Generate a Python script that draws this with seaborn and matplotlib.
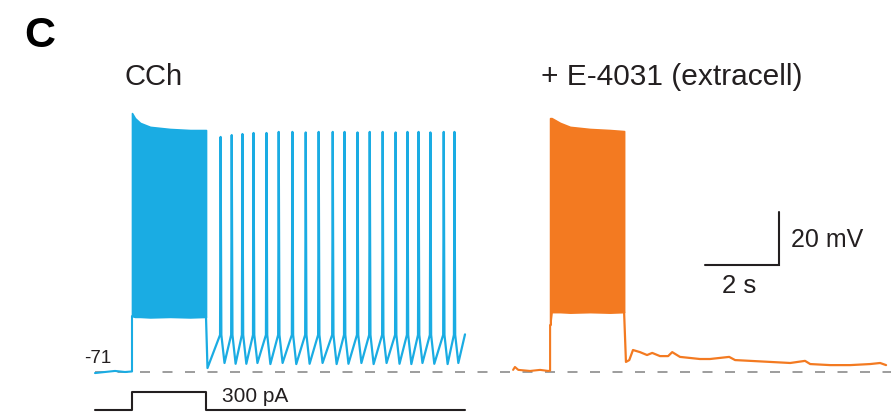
import numpy as np
import pandas as pd
import matplotlib
matplotlib.use("Agg")
import matplotlib.pyplot as plt
import seaborn as sns

# ---- values (time in s, membrane potential in mV) ----
rest_mv = -71
step_pa = 300
stim_t = [0.0, 1.0, 1.0, 3.0, 3.0, 10.0]
stim_pa = [0, 0, step_pa, step_pa, 0, 0]

# CCh trace
cch_base_t = [0.0, 0.27, 0.54, 0.81, 1.0]
cch_base_mv = [-71.4, -71.0, -70.6, -71.0, -70.8]
cch_band_t = [1.0, 1.08, 1.22, 1.49, 2.03, 2.57, 3.0]
cch_band_top = [26.7, 24.8, 23.0, 21.5, 20.7, 20.3, 20.3]
cch_band_bot = [-49.9, -50.2, -50.2, -50.4, -50.2, -50.4, -50.2]
cch_after_t = [3.0, 3.04]
cch_after_mv = [-50.2, -69.5]
spike_t = [3.38, 3.68, 3.97, 4.27, 4.62, 4.95, 5.32, 5.68, 6.03, 6.41,
           6.73, 7.08, 7.41, 7.76, 8.11, 8.43, 8.73, 9.05, 9.41, 9.70]
spike_peak = [17.7, 18.4, 18.8, 19.2, 19.2, 19.6, 19.6, 19.4, 19.6, 19.6,
              19.6, 19.4, 19.6, 19.6, 19.4, 19.6, 19.6, 19.4, 19.6, 19.6]
spike_trough = [-67.6, -67.9, -67.9, -67.6, -68.0, -67.6, -68.0, -67.9, -67.6, -68.0,
                -67.9, -67.6, -68.0, -67.6, -67.9, -68.0, -67.6, -67.9, -68.0, -67.6]
spike_thr = -57.0
cch_end_t, cch_end_mv = 10.0, -56.8

# + E-4031 trace (own time axis, shifted right on the page)
e4031_shift = 11.3
e4031_base_t = [0.0, 0.05, 0.14, 0.46, 0.73, 0.95, 1.0]
e4031_base_mv = [-70.2, -69.1, -70.2, -70.6, -70.2, -70.6, -70.5]
e4031_band_t = [1.0, 1.04, 1.08, 1.27, 1.54, 2.08, 2.62, 3.0]
e4031_band_top = [24.8, 24.8, 24.5, 23.0, 21.5, 20.7, 20.3, 19.9]
e4031_band_bot = [-53.3, -48.4, -48.4, -48.4, -48.6, -48.4, -48.6, -48.4]
e4031_after_t = [3.0, 3.05, 3.14, 3.24, 3.43, 3.62, 3.76, 3.97, 4.19, 4.30, 4.51,
                 4.78, 5.05, 5.32, 5.84, 6.00, 6.41, 6.95, 7.49, 7.89, 8.03, 8.57,
                 9.11, 9.65, 9.92, 10.08]
e4031_after_mv = [-48.4, -67.2, -66.5, -62.7, -63.5, -64.6, -63.8, -65.0, -65.0, -63.5, -65.3,
                  -65.7, -66.1, -66.1, -65.3, -66.5, -66.8, -67.2, -67.6, -66.8, -68.0, -68.4,
                  -68.4, -68.0, -67.6, -68.4]

scale_t, scale_mv = 2, 20

blue = "#1AACE3"
orange = "#F37A21"
ink = "#231F20"

# ---- page geometry (pixel mapping) ----
W, H = 894, 417
x0_px, px_per_s = 95, 37.0
rest_px, px_per_mv = 372, 2.65
stim_base_px, px_per_pa = 410, 18 / 300


def fpos(x, y):
    return x / W, 1 - y / H


sns.set_theme(style="white")
plt.rcParams["font.family"] = ["Liberation Sans", "DejaVu Sans"]

fig = plt.figure(figsize=(W / 100, H / 100), dpi=100)
ax = fig.add_axes([0, 0, 1, 1])
ax.set_xlim(-x0_px / px_per_s, (W - x0_px) / px_per_s)
ax.set_ylim(rest_mv - (H - rest_px) / px_per_mv, rest_mv + rest_px / px_per_mv)
ax.axis("off")

sax = fig.add_axes([0, 0, 1, 1])
sax.set_xlim(ax.get_xlim())
sax.set_ylim(-(H - stim_base_px) / px_per_pa, stim_base_px / px_per_pa)
sax.axis("off")
sax.patch.set_alpha(0)

# baseline reference
ax.hlines(rest_mv, 0, 21.5, colors="#8C8C8C", lw=1.2, linestyles=(0, (6, 7.5)), zorder=1)

# CCh trace
cch_t = list(cch_base_t) + [1.0]
cch_v = list(cch_base_mv) + [cch_band_bot[0]]
sns.lineplot(x=cch_t, y=cch_v, sort=False, estimator=None, color=blue, lw=1.5, ax=ax)
ax.fill_between(cch_band_t, cch_band_bot, cch_band_top, color=blue, lw=1.2, edgecolor=blue)

t_after = list(cch_after_t)
v_after = list(cch_after_mv)
for ti, pk, tr in zip(spike_t, spike_peak, spike_trough):
    t_after += [ti, ti + 0.015, ti + 0.035, ti + 0.12]
    v_after += [spike_thr, pk, spike_thr, tr]
t_after.append(cch_end_t)
v_after.append(cch_end_mv)
sns.lineplot(x=t_after, y=v_after, sort=False, estimator=None, color=blue, lw=1.6, ax=ax)

# E-4031 trace
e_base = pd.DataFrame({"t": np.array(e4031_base_t + [1.0]) + e4031_shift,
                       "mv": e4031_base_mv + [e4031_band_bot[0]]})
sns.lineplot(data=e_base, x="t", y="mv", sort=False, estimator=None, color=orange, lw=1.5, ax=ax)
ax.fill_between(np.array(e4031_band_t) + e4031_shift, e4031_band_bot, e4031_band_top,
                color=orange, lw=1.2, edgecolor=orange)
e_after = pd.DataFrame({"t": np.array(e4031_after_t) + e4031_shift, "mv": e4031_after_mv})
sns.lineplot(data=e_after, x="t", y="mv", sort=False, estimator=None, color=orange, lw=1.6, ax=ax)

# current step
sns.lineplot(x=stim_t, y=stim_pa, sort=False, estimator=None, color=ink, lw=1.5, ax=sax)

# scale bar
sb_t, sb_v = 18.49, -30.6
ax.plot([sb_t - scale_t, sb_t, sb_t], [sb_v, sb_v, sb_v + scale_mv], color=ink, lw=1.5,
        solid_joinstyle="miter")

# text
fig.text(*fpos(24, 47), "C", fontsize=31, fontweight="heavy", color="black", va="baseline")
fig.text(*fpos(124, 85), "CCh", fontsize=21, color=ink, va="baseline")
fig.text(*fpos(541, 85), "+ E-4031 (extracell)", fontsize=21.5, color=ink, va="baseline")
fig.text(*fpos(111, 363), "-71", fontsize=13.5, color=ink, va="baseline", ha="right")
fig.text(*fpos(222, 402), "300 pA", fontsize=15, color=ink, va="baseline")
fig.text(*fpos(791, 247), "20 mV", fontsize=18, color=ink, va="baseline")
fig.text(*fpos(722, 293), "2 s", fontsize=18.5, color=ink, va="baseline")

fig.savefig("out.png", dpi=100)
